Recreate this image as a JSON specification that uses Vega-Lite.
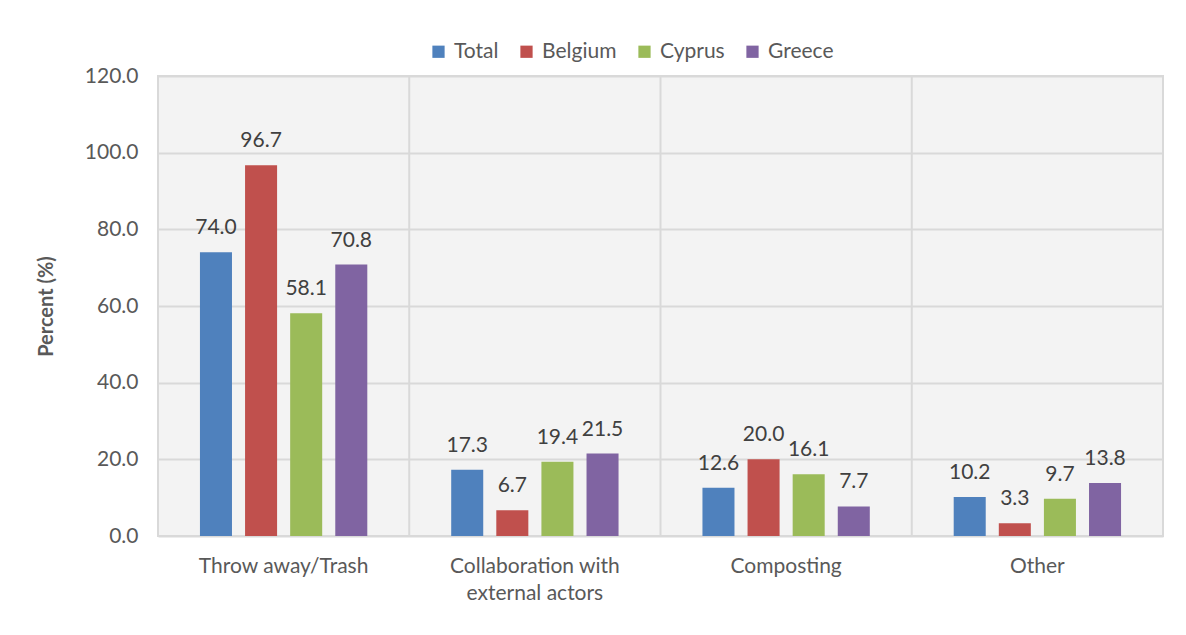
{
  "$schema": "https://vega.github.io/schema/vega-lite/v6.json",
  "autosize": {"type": "none"},
  "width": 1005,
  "height": 460,
  "padding": {"left": 158, "top": 76, "right": 23, "bottom": 99},
  "background": "white",
  "data": {
    "values": [
      {"category": "Throw away/Trash", "series": "Total", "value": 74.0},
      {"category": "Throw away/Trash", "series": "Belgium", "value": 96.7},
      {"category": "Throw away/Trash", "series": "Cyprus", "value": 58.1},
      {"category": "Throw away/Trash", "series": "Greece", "value": 70.8},
      {"category": "Collaboration with external actors", "series": "Total", "value": 17.3},
      {"category": "Collaboration with external actors", "series": "Belgium", "value": 6.7},
      {"category": "Collaboration with external actors", "series": "Cyprus", "value": 19.4},
      {"category": "Collaboration with external actors", "series": "Greece", "value": 21.5},
      {"category": "Composting", "series": "Total", "value": 12.6},
      {"category": "Composting", "series": "Belgium", "value": 20.0},
      {"category": "Composting", "series": "Cyprus", "value": 16.1},
      {"category": "Composting", "series": "Greece", "value": 7.7},
      {"category": "Other", "series": "Total", "value": 10.2},
      {"category": "Other", "series": "Belgium", "value": 3.3},
      {"category": "Other", "series": "Cyprus", "value": 9.7},
      {"category": "Other", "series": "Greece", "value": 13.8}
    ]
  },
  "encoding": {
    "x": {
      "field": "category",
      "type": "nominal",
      "sort": null,
      "scale": {
        "domain": ["Throw away/Trash", "Collaboration with external actors", "Composting", "Other"],
        "paddingInner": 0,
        "paddingOuter": 0
      },
      "axis": {
        "title": null,
        "labelAngle": 0,
        "grid": false,
        "ticks": false,
        "domain": false,
        "labelPadding": 19,
        "labelFontSize": 21,
        "labelColor": "#595959",
        "labelLineHeight": 27,
        "labelExpr": "datum.label == 'Collaboration with external actors' ? ['Collaboration with', 'external actors'] : datum.label"
      }
    },
    "xOffset": {
      "field": "series",
      "type": "nominal",
      "sort": ["Total", "Belgium", "Cyprus", "Greece"],
      "scale": {"paddingInner": 0.29, "paddingOuter": 0.93}
    },
    "y": {
      "field": "value",
      "type": "quantitative",
      "scale": {"domain": [0, 120], "nice": false},
      "axis": {
        "title": "Percent (%)",
        "titleFontSize": 20,
        "titleFontWeight": "bold",
        "titleColor": "#595959",
        "titlePadding": 28,
        "values": [0, 20, 40, 60, 80, 100, 120],
        "format": ".1f",
        "labelFontSize": 21,
        "labelColor": "#595959",
        "labelPadding": 20,
        "ticks": false,
        "domain": false,
        "grid": true,
        "gridColor": "#d9d9d9",
        "gridWidth": 2
      }
    }
  },
  "layer": [
    {
      "mark": {"type": "rule", "color": "#d9d9d9", "strokeWidth": 2},
      "data": {"values": [{"b": "Collaboration with external actors"}, {"b": "Composting"}, {"b": "Other"}]},
      "encoding": {
        "x": {"field": "b", "type": "nominal", "bandPosition": 0},
        "xOffset": null,
        "y": null
      }
    },
    {
      "mark": {"type": "bar"},
      "encoding": {
        "color": {
          "field": "series",
          "type": "nominal",
          "sort": ["Total", "Belgium", "Cyprus", "Greece"],
          "scale": {
            "domain": ["Total", "Belgium", "Cyprus", "Greece"],
            "range": ["#4f81bd", "#c0504d", "#9bbb59", "#8064a2"]
          },
          "legend": {
            "title": null,
            "orient": "none",
            "direction": "horizontal",
            "legendX": 270,
            "legendY": -35,
            "symbolType": "square",
            "symbolSize": 150,
            "symbolStrokeWidth": 0,
            "labelFontSize": 21,
            "labelColor": "#595959",
            "columnPadding": 17,
            "labelOffset": 5
          }
        }
      }
    },
    {
      "mark": {"type": "text", "baseline": "bottom", "dy": -14, "fontSize": 21, "color": "#404040"},
      "encoding": {
        "text": {"field": "value", "type": "quantitative", "format": ".1f"}
      }
    }
  ],
  "config": {
    "font": "Lato",
    "view": {"fill": "#f3f3f3", "stroke": "#d9d9d9", "strokeWidth": 2}
  }
}
